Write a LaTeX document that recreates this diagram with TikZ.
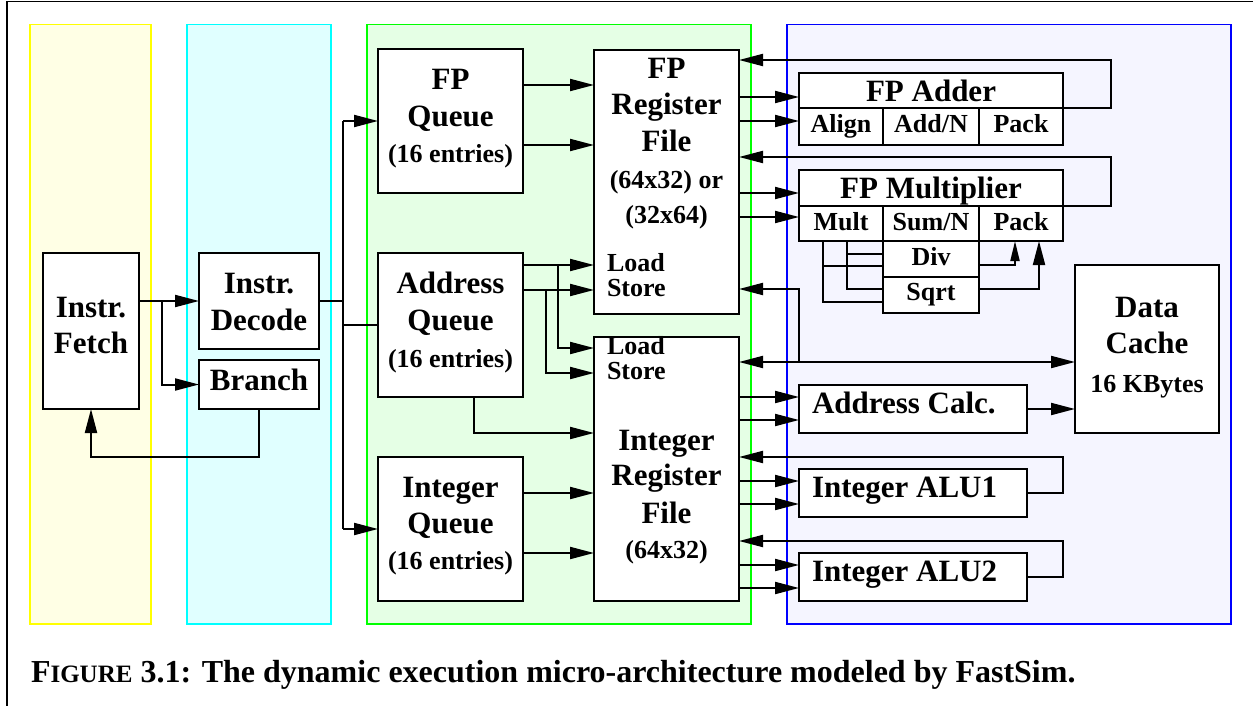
\documentclass[tikz,border=0pt]{standalone}
\usepackage{fontspec}
\setmainfont{Liberation Serif}
\usetikzlibrary{arrows.meta}
\definecolor{fetchfill}{RGB}{255,255,229}
\definecolor{decfill}{RGB}{224,255,255}
\definecolor{issfill}{RGB}{229,255,229}
\definecolor{exfill}{RGB}{245,245,255}
\definecolor{fetchline}{RGB}{255,255,0}
\definecolor{decline}{RGB}{0,255,255}
\definecolor{issline}{RGB}{0,255,0}
\definecolor{exline}{RGB}{0,0,255}
\begin{document}
\begin{tikzpicture}[x=1pt,y=-1pt,
  every node/.style={inner sep=0pt, outer sep=0pt},
  stage/.style={line width=1.3pt},
  box/.style={draw, fill=white, line width=1.9pt},
  big/.style={anchor=base, font=\bfseries\fontsize{31}{37}\selectfont},
  sml/.style={anchor=base, font=\bfseries\fontsize{26}{30}\selectfont},
  wire/.style={line width=2pt},
  arr/.style={wire, -{Triangle[length=24pt,width=12pt]}},
  darr/.style={wire, {Triangle[length=24pt,width=12pt]}-{Triangle[length=24pt,width=12pt]}},
  tarr/.style={wire, -{Triangle[length=20pt,width=9pt]}},
]
\useasboundingbox (0,0) rectangle (1253,706);

% outer frame (top and left rules)
\draw[line width=1.3pt] (7,706) -- (7,1.5) -- (1253,1.5);

% pipeline stage backgrounds
\draw[stage, draw=fetchline, fill=fetchfill] (30,24.5) rectangle (151,624);
\draw[stage, draw=decline, fill=decfill] (187,24.5) rectangle (331,624);
\draw[stage, draw=issline, fill=issfill] (367,24.5) rectangle (751,624);
\draw[stage, draw=exline, fill=exfill] (787,24.5) rectangle (1231,624);

% ---------- fetch / decode ----------
\node[box, minimum width=96pt, minimum height=156pt] (fetch) at (91,331) {};
\node[big] at (91,317) {Instr.};
\node[big] at (91,353) {Fetch};

\node[box, minimum width=120pt, minimum height=96pt] (decode) at (259,301) {};
\node[big] at (259,293) {Instr.};
\node[big] at (259,330) {Decode};

\node[box, minimum width=120pt, minimum height=49pt] (branch) at (259,384.5) {};
\node[big] at (259,390) {Branch};

% ---------- queues ----------
\node[box, minimum width=145pt, minimum height=144pt] (fpq) at (450.5,121) {};
\node[big] at (450.5,90) {FP};
\node[big] at (450.5,127) {Queue};
\node[sml] at (450.5,163) {(16 entries)};

\node[box, minimum width=145pt, minimum height=144pt] (addrq) at (450.5,325) {};
\node[big] at (450.5,293) {Address};
\node[big] at (450.5,330) {Queue};
\node[sml] at (450.5,367) {(16 entries)};

\node[box, minimum width=145pt, minimum height=144pt] (intq) at (450.5,529) {};
\node[big] at (450.5,497) {Integer};
\node[big] at (450.5,533) {Queue};
\node[sml] at (450.5,569) {(16 entries)};

% ---------- register files ----------
\node[box, minimum width=145pt, minimum height=264pt] (fprf) at (666.5,182) {};
\node[big] at (666.5,79) {FP};
\node[big] at (666.5,115) {Register};
\node[big] at (666.5,152) {File};
\node[sml] at (666.5,188) {(64x32) or};
\node[sml] at (666.5,223) {(32x64)};
\node[sml, anchor=base west] at (607,271) {Load};
\node[sml, anchor=base west] at (607,296) {Store};

\node[box, minimum width=145pt, minimum height=264pt] (intrf) at (666.5,469) {};
\node[sml, anchor=base west] at (607,354) {Load};
\node[sml, anchor=base west] at (607,379) {Store};
\node[big] at (666.5,450) {Integer};
\node[big] at (666.5,485) {Register};
\node[big] at (666.5,523) {File};
\node[sml] at (666.5,558) {(64x32)};

% ---------- FP adder ----------
\node[box, minimum width=264pt, minimum height=35pt] (fpadd) at (931,90.5) {};
\node[big] at (931,102) {FP Adder};
\node[box, minimum width=84pt, minimum height=37pt] (align) at (841,126.5) {};
\node[box, minimum width=96pt, minimum height=37pt] (addn) at (931,126.5) {};
\node[box, minimum width=84pt, minimum height=37pt] (apack) at (1021,126.5) {};
\node[sml] at (841,133) {Align};
\node[sml] at (931,133) {Add/N};
\node[sml] at (1021,133) {Pack};

% ---------- FP multiplier ----------
\node[box, minimum width=264pt, minimum height=36pt] (fpmul) at (931,188) {};
\node[big] at (931,198) {FP Multiplier};
\node[box, minimum width=84pt, minimum height=35pt] (mult) at (841,223.5) {};
\node[box, minimum width=96pt, minimum height=35pt] (sumn) at (931,223.5) {};
\node[box, minimum width=84pt, minimum height=35pt] (mpack) at (1021,223.5) {};
\node[sml] at (841,230) {Mult};
\node[sml] at (931,230) {Sum/N};
\node[sml] at (1021,230) {Pack};
\node[box, minimum width=96pt, minimum height=36pt] (div) at (931,259) {};
\node[box, minimum width=96pt, minimum height=36pt] (sqrt) at (931,295) {};
\node[sml] at (931,265) {Div};
\node[sml] at (931,300) {Sqrt};

% ---------- data cache and integer units ----------
\node[box, minimum width=144pt, minimum height=168pt] (cache) at (1147,349) {};
\node[big] at (1147,317) {Data};
\node[big] at (1147,353) {Cache};
\node[sml] at (1147,392) {16 KBytes};

\node[box, minimum width=228pt, minimum height=48pt] (acalc) at (913,409) {};
\node[big, anchor=base west] at (812,413) {Address Calc.};
\node[box, minimum width=228pt, minimum height=48pt] (alu1) at (913,493) {};
\node[big, anchor=base west] at (812,497) {Integer ALU1};
\node[box, minimum width=228pt, minimum height=48pt] (alu2) at (913,577) {};
\node[big, anchor=base west] at (812,581) {Integer ALU2};

% ---------- connectors: front end ----------
\coordinate (fsplit) at (162,301);
\coordinate (bus) at (343,301);
\draw[arr] (fetch.east |- decode.west) -- (decode.west);
\draw[arr] (fsplit) |- (branch.west);
\draw[arr] (branch.south) -- (branch.south |- 0,457) -| (fetch.south);
\draw[wire] (decode.east) -- (bus);
\draw[wire] (bus |- fpq.west) -- (bus |- intq.west);
\draw[arr] (bus |- fpq.west) -- (fpq.west);
\draw[wire] (bus |- addrq.west) -- (addrq.west);
\draw[arr] (bus |- intq.west) -- (intq.west);

% queues to register files
\draw[arr] (fpq.east |- 0,85) -- (fprf.west |- 0,85);
\draw[arr] (fpq.east |- 0,145) -- (fprf.west |- 0,145);
\draw[arr] (addrq.east |- 0,265) -- (fprf.west |- 0,265);
\draw[arr] (addrq.east |- 0,290) -- (fprf.west |- 0,290);
\draw[arr] (558,265) |- (intrf.west |- 0,348);
\draw[arr] (546,290) |- (intrf.west |- 0,373);
\draw[arr] (addrq.south -| 474,0) |- (intrf.west |- 0,433);
\draw[arr] (intq.east |- 0,493) -- (intrf.west |- 0,493);
\draw[arr] (intq.east |- 0,553) -- (intrf.west |- 0,553);

% FP register file to FP units and results back
\draw[arr] (fprf.east |- 0,97) -- (fpadd.west |- 0,97);
\draw[arr] (fprf.east |- 0,121) -- (align.west |- 0,121);
\draw[arr] (fpadd.south east) -- (1111,108) |- (fprf.east |- 0,60);
\draw[arr] (fprf.east |- 0,193) -- (fpmul.west |- 0,193);
\draw[arr] (fprf.east |- 0,217) -- (mult.west |- 0,217);
\draw[arr] (fpmul.south east) -- (1111,206) |- (fprf.east |- 0,157);

% multiplier internal paths
\draw[wire] (mult.south -| 823,0) |- (sqrt.west |- 0,302);
\draw[wire] (823,266) -- (div.west |- 0,266);
\draw[wire] (mult.south -| 847,0) |- (sqrt.west |- 0,289);
\draw[wire] (847,254) -- (div.west |- 0,254);
\draw[tarr] (div.east |- 0,265) -| (mpack.south -| 1015,0);
\draw[arr] (sqrt.east |- 0,289) -| (mpack.south -| 1039,0);

% load/store bus to data cache
\draw[darr] (intrf.east |- 0,362) -- (cache.west |- 0,362);
\draw[arr] (799,362) |- (fprf.east |- 0,289);

% integer register file to integer units and results back
\draw[arr] (intrf.east |- 0,397) -- (acalc.west |- 0,397);
\draw[arr] (intrf.east |- 0,420) -- (acalc.west |- 0,420);
\draw[arr] (acalc.east) -- (cache.west |- acalc.east);
\draw[arr] (intrf.east |- 0,481) -- (alu1.west |- 0,481);
\draw[arr] (intrf.east |- 0,504) -- (alu1.west |- 0,504);
\draw[arr] (alu1.east) -- (1063,493) |- (intrf.east |- 0,457);
\draw[arr] (intrf.east |- 0,565) -- (alu2.west |- 0,565);
\draw[arr] (intrf.east |- 0,588) -- (alu2.west |- 0,588);
\draw[arr] (alu2.east) -- (1063,577) |- (intrf.east |- 0,541);

% caption
\node[anchor=base west, font=\bfseries\fontsize{32}{38}\selectfont] (caption) at (31,682)
  {F{\fontsize{25}{30}\selectfont IGURE} 3.1: The dynamic execution micro-architecture modeled by FastSim.};
\end{tikzpicture}
\end{document}
